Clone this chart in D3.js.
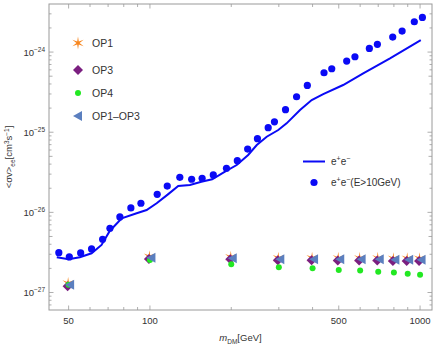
<!DOCTYPE html>
<html><head><meta charset="utf-8">
<script src="https://cdn.jsdelivr.net/npm/d3@7"></script>
<style>
html,body{margin:0;padding:0;background:#fff;}
svg{display:block;font-family:"Liberation Sans",Arial,Helvetica,sans-serif;}
</style></head>
<body>
<svg id="chart" width="436" height="347"></svg>
<script>
// e+e- line
const lineMass = [45.2,50,55,60.8,66.2,71,78.6,89.3,97.2,105.9,116.9,127.3,140.6,155,170,189.6,209.5,231,248.6,270.6,298.6,320.6,359.4,397,438,519,616,774,1006];
const lineVal = [2.75e-27,2.6e-27,2.75e-27,3.09e-27,3.92e-27,5.86e-27,8.44e-27,9.75e-27,1.07e-26,1.3e-26,1.69e-26,2.13e-26,2.2e-26,2.41e-26,2.59e-26,3.22e-26,3.9e-26,5.2e-26,6.92e-26,8.79e-26,1.065e-25,1.29e-25,1.89e-25,2.52e-25,2.99e-25,3.88e-25,5.42e-25,8.35e-25,1.41e-24];
// e+e- (E>10GeV) dots
const dotMass = [46,50.3,55.4,60.8,66.8,71.1,77.4,85,92.6,106.4,115.9,129,142.7,156,171.6,192,210.6,230,250,274,289,317.6,349,382.5,441,471,535,574,649,695,792,858,952,1020];
const dotVal = [3.14e-27,2.78e-27,3.12e-27,3.5e-27,4.62e-27,6.34e-27,8.77e-27,1.135e-26,1.3e-26,1.68e-26,2.13e-26,2.74e-26,2.59e-26,2.66e-26,2.93e-26,3.55e-26,4.41e-26,6.17e-26,8.3e-26,1.138e-25,1.35e-25,1.91e-25,2.77e-25,3.84e-25,5.52e-25,6.19e-25,7.72e-25,8.74e-25,1.11e-24,1.25e-24,1.54e-24,1.83e-24,2.39e-24,2.71e-24];
// operator points
const opMass = [50,100,200,300,400,500,600,700,800,900,1000];
const op1Val = [1.3e-27,2.8e-27,2.76e-27,2.68e-27,2.68e-27,2.67e-27,2.67e-27,2.67e-27,2.64e-27,2.64e-27,2.64e-27];
const op3Val = [1.2e-27,2.62e-27,2.6e-27,2.52e-27,2.52e-27,2.51e-27,2.51e-27,2.51e-27,2.48e-27,2.48e-27,2.48e-27];
const op4Val = [1.25e-27,2.55e-27,2.25e-27,2.07e-27,2.01e-27,1.91e-27,1.88e-27,1.82e-27,1.78e-27,1.71e-27,1.66e-27];
const op13Val = [1.25e-27,2.72e-27,2.68e-27,2.6e-27,2.6e-27,2.6e-27,2.6e-27,2.6e-27,2.57e-27,2.57e-27,2.57e-27];
const xTickLabels = [50,100,500,1000];
const yTickExps = [-27,-26,-25,-24];
const legendOP = ["OP1","OP3","OP4","OP1\u2013OP3"];

const svg = d3.select("#chart");
const L=49,R=432,T=4,B=310;
const x = d3.scaleLog().domain([42.3,1107]).range([L,R]);
const y = d3.scaleLog().domain([6.05e-28,3.98e-24]).range([B,T]);
const axisCol="#9a9a9a", textCol="#333";

// frame
svg.append("rect").attr("x",L).attr("y",T).attr("width",R-L).attr("height",B-T)
  .attr("fill","none").attr("stroke",axisCol).attr("stroke-width",1);

// x ticks
const xMinor=[];
[40,50,60,70,80,90,100,200,300,400,500,600,700,800,900,1000].forEach(v=>{ if(v>=x.domain()[0]&&v<=x.domain()[1]) xMinor.push(v);});
const g=svg.append("g").attr("stroke",axisCol).attr("stroke-width",0.8);
xMinor.forEach(v=>{
  const major = xTickLabels.includes(v);
  const len = major?4.5:3;
  g.append("line").attr("x1",x(v)).attr("x2",x(v)).attr("y1",B).attr("y2",B-len);
  g.append("line").attr("x1",x(v)).attr("x2",x(v)).attr("y1",T).attr("y2",T+len);
});
xTickLabels.forEach(v=>{
  svg.append("text").attr("x",x(v)).attr("y",B+14).attr("text-anchor","middle")
    .attr("font-size",9.5).attr("fill",textCol).text(v);
});
// y ticks
for(let e=-28;e<=-24;e++){
  for(let k=1;k<=9;k++){
    const v=k*Math.pow(10,e);
    if(v<y.domain()[0]||v>y.domain()[1]) continue;
    const len = k===1?4.5:(k===5?3.5:2.5);
    g.append("line").attr("x1",L).attr("x2",L+len).attr("y1",y(v)).attr("y2",y(v));
    g.append("line").attr("x1",R).attr("x2",R-len).attr("y1",y(v)).attr("y2",y(v));
  }
}
yTickExps.forEach(e=>{
  const t=svg.append("text").attr("x",45).attr("y",y(Math.pow(10,e))+3.5).attr("text-anchor","end")
    .attr("font-size",9.5).attr("fill",textCol);
  t.append("tspan").text("10");
  t.append("tspan").attr("dy",-4).attr("font-size",6.5).text("\u2212"+(-e));
});

// axis labels
const xl=svg.append("text").attr("x",(L+R)/2).attr("y",341).attr("text-anchor","middle").attr("font-size",9.5).attr("fill",textCol);
xl.append("tspan").attr("font-style","italic").text("m");
xl.append("tspan").attr("dy",2.5).attr("font-size",6.5).text("DM");
xl.append("tspan").attr("dy",-2.5).text("[GeV]");
const yl=svg.append("text").attr("transform",`translate(12,${(T+B)/2}) rotate(-90)`).attr("text-anchor","middle").attr("font-size",9.5).attr("fill",textCol);
yl.append("tspan").text("<\u03C3v>");
yl.append("tspan").attr("dy",2.5).attr("font-size",6.5).text("ee");
yl.append("tspan").attr("dy",-2.5).text("[cm");
yl.append("tspan").attr("dy",-3.5).attr("font-size",6.5).text("3");
yl.append("tspan").attr("dy",3.5).text("s");
yl.append("tspan").attr("dy",-3.5).attr("font-size",6.5).text("\u22121");
yl.append("tspan").attr("dy",3.5).text("]");

// symbols
const blue="#0a0af5", orange="#f7861e", purple="#7b1f80", green="#22e822", steel="#5b7fbf";
function starPath(r1,r2,n){
  const pts=[];
  for(let i=0;i<2*n;i++){const r=i%2?r2:r1;const a=Math.PI*i/n-Math.PI/2;pts.push([r*Math.cos(a),r*Math.sin(a)]);}
  return "M"+pts.map(p=>p.join(",")).join("L")+"Z";
}
const star=starPath(6.5,1.6,6);
const diamond="M0,-5L5,0L0,5L-5,0Z";
const tri="M-5,0L4,-5L4,5Z";
function drawStar(cx,cy){svg.append("path").attr("d",star).attr("transform",`translate(${cx},${cy})`).attr("fill",orange);}
function drawDiamond(cx,cy){svg.append("path").attr("d",diamond).attr("transform",`translate(${cx},${cy})`).attr("fill",purple);}
function drawTri(cx,cy){svg.append("path").attr("d",tri).attr("transform",`translate(${cx},${cy})`).attr("fill",steel);}
function drawG(cx,cy){svg.append("circle").attr("cx",cx).attr("cy",cy).attr("r",3).attr("fill",green);}

// line
svg.append("path").datum(lineMass.map((m,i)=>[m,lineVal[i]]))
  .attr("d",d3.line().x(d=>x(d[0])).y(d=>y(d[1])))
  .attr("fill","none").attr("stroke",blue).attr("stroke-width",2);
// dots
svg.append("g").selectAll("circle").data(dotMass.map((m,i)=>[m,dotVal[i]])).join("circle")
  .attr("cx",d=>x(d[0])).attr("cy",d=>y(d[1])).attr("r",3.6).attr("fill",blue);

opMass.forEach((m,i)=>{
  drawStar(x(m)-0.5,y(op1Val[i]));
  drawDiamond(x(m)-1,y(op3Val[i]));
  drawG(x(m),y(op4Val[i]));
  drawTri(x(m)+1.5,y(op13Val[i]));
});

// legend OP
const legY=[43,70,93,116];
drawStar(78,legY[0]); drawDiamond(78,legY[1]); drawG(78,legY[2]); drawTri(78,legY[3]);
legendOP.forEach((t,i)=>{
  svg.append("text").attr("x",92).attr("y",legY[i]+3.7).attr("font-size",10.5).attr("fill",textCol).text(t);
});
// legend e+e-
svg.append("line").attr("x1",303).attr("x2",325).attr("y1",161.5).attr("y2",161.5).attr("stroke",blue).attr("stroke-width",2);
svg.append("circle").attr("cx",314).attr("cy",182.5).attr("r",3.6).attr("fill",blue);
const t1=svg.append("text").attr("x",331).attr("y",165).attr("font-size",10).attr("fill",textCol);
t1.append("tspan").text("e");t1.append("tspan").attr("dy",-4).attr("font-size",7).text("+");
t1.append("tspan").attr("dy",4).text("e");t1.append("tspan").attr("dy",-4).attr("font-size",7).text("\u2212");
const t2=svg.append("text").attr("x",331).attr("y",186).attr("font-size",10).attr("fill",textCol);
t2.append("tspan").text("e");t2.append("tspan").attr("dy",-4).attr("font-size",7).text("+");
t2.append("tspan").attr("dy",4).text("e");t2.append("tspan").attr("dy",-4).attr("font-size",7).text("\u2212");
t2.append("tspan").attr("dy",4).text("(E>10GeV)");
</script>
</body></html>
